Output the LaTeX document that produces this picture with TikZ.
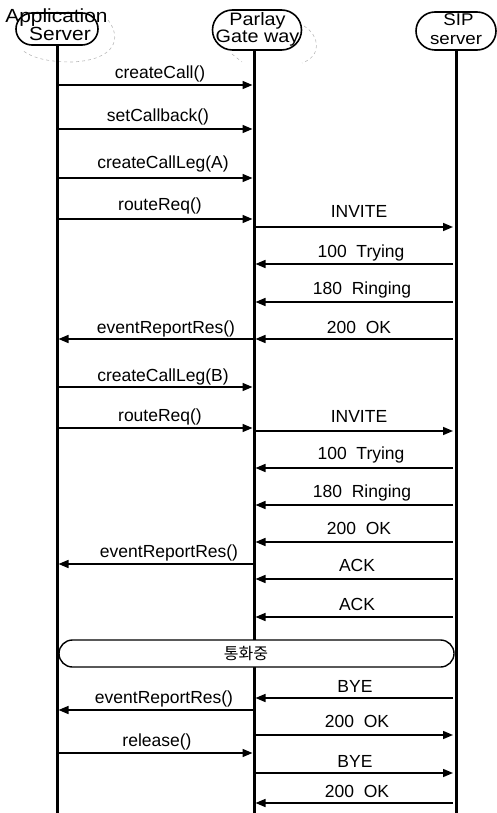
\documentclass[tikz,border=0pt]{standalone}
\usepackage{fontspec}
\setmainfont{Liberation Sans}
\newfontfamily\hdrfont[FakeStretch=1.1]{Liberation Sans}
\newfontfamily\cjk{Noto Sans CJK KR}
\usetikzlibrary{arrows.meta,shapes.misc}

\newcommand\seqmsg[7]{%
  \coordinate (#1s) at (#2,#4);
  \coordinate (#1e) at (#3,#4);
  \draw[msgline] (#1s) -- (#1e);
  \node[lbl] (#1l) at (#5,#6) {#7};}

\begin{document}
\begin{tikzpicture}[x=1pt,y=-1pt,
  lifeline/.style={line width=3pt},
  hdrbox/.style={draw,rounded rectangle,line width=1.6pt,inner sep=0pt},
  hdrtxt/.style={anchor=base,inner sep=0pt},
  msgline/.style={line width=1.5pt,-{Triangle[length=10pt,width=8pt]}},
  lbl/.style={anchor=base,inner sep=0pt,font=\fontsize{17.5}{17.5}\selectfont},
  faint/.style={gray!55,line width=0.6pt,dash pattern=on 3pt off 3pt}]
\useasboundingbox (0,0) rectangle (497,813);

% faint scan arcs
\draw[faint] (108,20) .. controls (122,38) and (116,60) .. (72,62) .. controls (48,62) and (32,58) .. (22,50);
\draw[faint] (304,26) .. controls (320,36) and (322,56) .. (302,63);
\draw[faint] (232,54) -- (242,62);

% header boxes
\node[hdrbox,minimum width=82pt,minimum height=32pt] (appbox) at (57,29) {};
\node[hdrbox,minimum width=89pt,minimum height=40pt] (pgwbox) at (257,30) {};
\node[hdrbox,minimum width=80pt,minimum height=38pt] (sipbox) at (456,31) {};

\node[hdrtxt,font=\hdrfont\fontsize{19}{19}\selectfont] (app1) at (56.5,23) {Application};
\node[hdrtxt,font=\hdrfont\fontsize{19}{19}\selectfont] (app2) at (60,41) {Server};
\node[hdrtxt,font=\hdrfont\fontsize{18}{18}\selectfont] (pgw1) at (257.5,26) {Parlay};
\node[hdrtxt,font=\hdrfont\fontsize{18}{18}\selectfont] (pgw2) at (257.5,43) {Gate way};
\node[hdrtxt,font=\hdrfont\fontsize{17}{17}\selectfont] (sip1) at (458.5,25.5) {SIP};
\node[hdrtxt,font=\hdrfont\fontsize{17}{17}\selectfont] (sip2) at (456,45) {server};

% lifelines
\coordinate (atop) at (57,45);
\coordinate (abot) at (57,813);
\coordinate (ptop) at (254,50);
\coordinate (pbot) at (254,813);
\coordinate (stop) at (456,50);
\coordinate (sbot) at (456,813);
\draw[lifeline] (atop) -- (abot);
\draw[lifeline] (ptop) -- (pbot);
\draw[lifeline] (stop) -- (sbot);

% messages
\seqmsg{m1}{58.5}{252.5}{85}{160}{79}{createCall()}
\seqmsg{m2}{58.5}{252.5}{129}{158}{122}{setCallback()}
\seqmsg{m3}{58.5}{252.5}{178}{163}{169}{createCallLeg(A)}
\seqmsg{m4}{58.5}{252.5}{219}{160}{211}{routeReq()}
\seqmsg{m5}{255.5}{453}{227}{359}{217}{INVITE}
\seqmsg{m6}{453}{255.5}{264}{361}{257}{100\ \ Trying}
\seqmsg{m7}{453}{255.5}{302}{362}{294}{180\ \ Ringing}
\seqmsg{m8}{252.5}{58.5}{339}{166}{333}{eventReportRes()}
\seqmsg{m9}{453}{255.5}{339}{359}{333}{200\ \ OK}
\seqmsg{m10}{58.5}{252.5}{387}{163}{381}{createCallLeg(B)}
\seqmsg{m11}{58.5}{252.5}{428}{160}{421}{routeReq()}
\seqmsg{m12}{255.5}{453}{431}{359}{422}{INVITE}
\seqmsg{m13}{453}{255.5}{468}{361}{459}{100\ \ Trying}
\seqmsg{m14}{453}{255.5}{505}{362}{497}{180\ \ Ringing}
\seqmsg{m15}{453}{255.5}{542}{359}{534}{200\ \ OK}
\seqmsg{m16}{252.5}{58.5}{564}{169}{557}{eventReportRes()}
\seqmsg{m17}{453}{255.5}{579}{357}{571}{ACK}
\seqmsg{m18}{453}{255.5}{617}{357}{610}{ACK}

% in-call bar
\node[draw,rounded rectangle,fill=white,line width=1.4pt,minimum width=395pt,minimum height=27pt,inner sep=0pt] (callbar) at (256.5,653.5) {};
\node[hdrtxt,font=\cjk\fontsize{16}{16}\selectfont] (calltxt) at (246,659) {통화중};

\seqmsg{m19}{453}{255.5}{698}{355}{692}{BYE}
\seqmsg{m20}{252.5}{58.5}{710}{164}{703}{eventReportRes()}
\seqmsg{m21}{255.5}{453}{735}{357}{727}{200\ \ OK}
\seqmsg{m22}{58.5}{252.5}{753}{157}{746}{release()}
\seqmsg{m23}{255.5}{453}{773}{355}{767}{BYE}
\seqmsg{m24}{453}{255.5}{803}{357}{797}{200\ \ OK}
\end{tikzpicture}
\end{document}
